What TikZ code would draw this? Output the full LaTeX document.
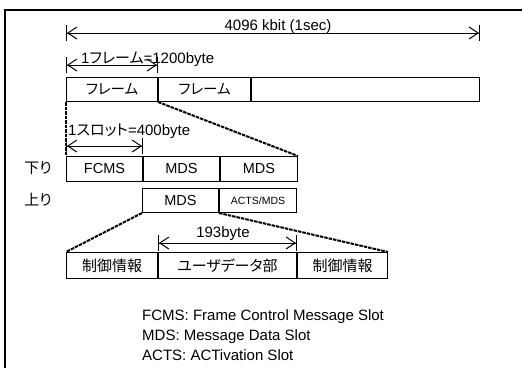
\documentclass[tikz,border=0pt]{standalone}
\usepackage{fontspec}
\setmainfont{Liberation Sans}
\newfontfamily\jp[RawFeature=+palt]{Noto Sans CJK JP}
\usetikzlibrary{arrows.meta}

\begin{document}
\begin{tikzpicture}[x=1pt,y=-1pt,
  cell/.style={draw,line width=1pt,anchor=north west,inner sep=0pt,
    font=\fontsize{14.5}{16}\selectfont},
  zoomline/.style={line width=2pt,dash pattern=on 3.5pt off 1pt},
  span/.style={line width=1pt,
    {Bar[width=16pt]Straight Barb[length=9pt,width=12pt]}-{Straight Barb[length=9pt,width=12pt]Bar[width=16pt]}},
  lbl/.style={font=\fontsize{15}{16}\selectfont,inner sep=0pt}]

% Canvas and frame
\useasboundingbox (0,0) rectangle (522,367);
\clip (0,0) rectangle (522,367);
\draw[line width=1.2pt] (5,10) rectangle (540,390);

% Frames
\node[cell,minimum width=91,minimum height=24] (f1) at (66,77) {\jp フレーム};
\node[cell,minimum width=92,minimum height=24] (f2) at (f1.north east) {\jp フレーム};
\node[cell,minimum width=228,minimum height=24] (f3) at (f2.north east) {};

% Slots (down / up)
\node[cell,minimum width=76,minimum height=25] (d1) at (66,156) {FCMS};
\node[cell,minimum width=76,minimum height=25] (d2) at (d1.north east) {MDS};
\node[cell,minimum width=77,minimum height=25] (d3) at (d2.north east) {MDS};
\node[cell,minimum width=76,minimum height=24] (u1) at (142,188) {MDS};
\node[cell,minimum width=77,minimum height=24,font=\fontsize{10.5}{12}\selectfont] (u2) at (u1.north east) {ACTS/MDS};

\node[lbl] (down) at (38,168) {\jp 下り};
\node[lbl] (up) at (38,200) {\jp 上り};

% Slot contents
\node[cell,minimum width=91,minimum height=26,font=\fontsize{15}{16}\selectfont] (b1) at (66,252) {\jp 制御情報};
\node[cell,minimum width=138,minimum height=26,font=\fontsize{15}{16}\selectfont] (b2) at (b1.north east) {\jp ユーザデータ部};
\node[cell,minimum width=90,minimum height=26,font=\fontsize{15}{16}\selectfont] (b3) at (b2.north east) {\jp 制御情報};

% Zoom lines
\draw[zoomline] (f1.south west) -- (d1.north west);
\draw[zoomline] (f1.south east) -- (d3.north east);
\draw[zoomline] (u1.south west) -- (b1.north west);
\draw[zoomline] (u1.south east) -- (b3.north east);

% Dimensions
\draw[span] (f1.north west |- 0,33) -- (f3.north east |- 0,33);
\node[lbl,anchor=base] (total) at (278,30) {4096 kbit (1sec)};
\draw[span] (f1.north west |- 0,65) -- (f1.north east |- 0,65);
\node[lbl,anchor=base west] (frame) at (81,63) {1{\jp フレーム}=1200byte};
\draw[span] (d1.north west |- 0,146) -- (d1.north east |- 0,146);
\node[lbl,anchor=base west] (slot) at (68,135) {1{\jp スロット}=400byte};
\draw[span] (b2.north west |- 0,243) -- (b2.north east |- 0,243);
\node[lbl,anchor=base] (user) at (223,237) {193byte};

% Legend
\node[lbl,anchor=base west] (lg1) at (142,320) {FCMS: Frame Control Message Slot};
\node[lbl,anchor=base west] (lg2) at (142,340) {MDS: Message Data Slot};
\node[lbl,anchor=base west] (lg3) at (142,360) {ACTS: ACTivation Slot};

\end{tikzpicture}
\end{document}
